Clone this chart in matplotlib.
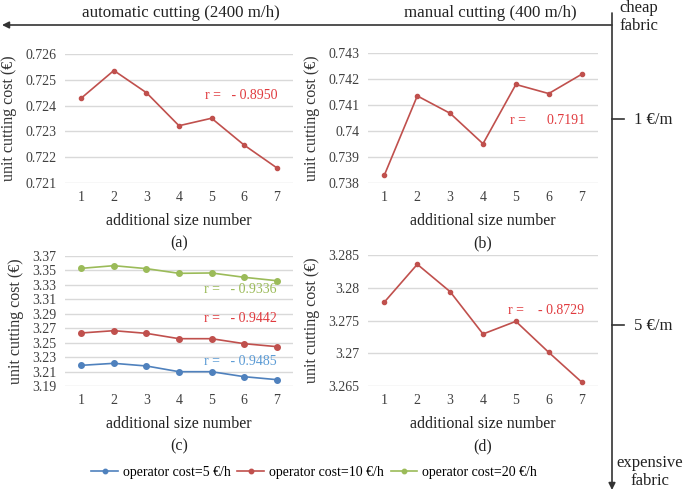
import matplotlib
matplotlib.use("Agg")
import matplotlib.pyplot as plt
import numpy as np

plt.rcParams['font.family'] = ['Liberation Serif', 'DejaVu Serif']

sizes = [1, 2, 3, 4, 5, 6, 7]

# (a) automatic cutting, cheap fabric
auto_cheap = [0.72429, 0.72536, 0.72450, 0.72322, 0.72351, 0.72247, 0.72159]
# (b) manual cutting, cheap fabric
manual_cheap = [0.73831, 0.74135, 0.74068, 0.73951, 0.74179, 0.74144, 0.74218]
# (c) automatic cutting, expensive fabric, three operator costs
auto_exp_5 = [3.2186, 3.2214, 3.2177, 3.2098, 3.2098, 3.2029, 3.1988]
auto_exp_10 = [3.2634, 3.2666, 3.2629, 3.2555, 3.2555, 3.2486, 3.2445]
auto_exp_20 = [3.3529, 3.3566, 3.3525, 3.3460, 3.3465, 3.3405, 3.3358]
# (d) manual cutting, expensive fabric
manual_exp = [3.27782, 3.28358, 3.2794, 3.27294, 3.27487, 3.27014, 3.26561]

r_a = "r =   - 0.8950"
r_b = "r =      0.7191"
r_c = ["r =   - 0.9485", "r =   - 0.9442", "r =   - 0.9336"]
r_d = "r =    - 0.8729"

legend_labels = ["operator cost=5 €/h", "operator cost=10 €/h", "operator cost=20 €/h"]

BLUE = "#4F81BD"
RED = "#C0504D"
GREEN = "#9BBB59"
RTXT = "#E03A3E"
BTXT = "#5B9BD5"

W, H = 685, 494
fig = plt.figure(figsize=(W / 100, H / 100), dpi=100)


def make_ax(x0, y0, x1, y1):
    return fig.add_axes([x0 / W, 1 - y1 / H, (x1 - x0) / W, (y1 - y0) / H])


def style(ax, ymin, ymax, step, fmt, letter):
    ax.set_xlim(0.5, 7.5)
    ticks = np.arange(ymin, ymax + step / 2, step)
    ax.set_ylim(ymin, ymax)
    ax.set_yticks(ticks)
    ax.set_yticklabels([fmt(t) for t in ticks])
    ax.set_xticks(sizes)
    for s in ax.spines.values():
        s.set_visible(False)
    ax.grid(axis='y', color='#D9D9D9', linewidth=1)
    ax.set_axisbelow(True)
    ax.tick_params(length=0, labelsize=10, colors='#404040', pad=6)
    ax.set_ylabel("unit cutting cost (€)", fontsize=11.5, color='#333333', labelpad=6)
    ax.set_xlabel("additional size number" + "\n(" + letter + ")", fontsize=11.5,
                  color='#222222', labelpad=6, linespacing=1.6)


def trim(v, n):
    s = f"{v:.{n}f}".rstrip('0').rstrip('.')
    return s


LW = 1.2
# (a)
ax_a = make_ax(65, 54, 293, 183)
ax_a.plot(sizes, auto_cheap, color=RED, lw=LW, marker='o', ms=3)
style(ax_a, 0.721, 0.726, 0.001, lambda t: f"{t:.3f}", "a")
ax_a.text(4.8, 0.7244, r_a, color=RTXT, fontsize=10, va='center')

# (b)
ax_b = make_ax(368, 53, 598, 183)
ax_b.plot(sizes, manual_cheap, color=RED, lw=LW, marker='o', ms=3)
style(ax_b, 0.738, 0.743, 0.001, lambda t: trim(t, 3), "b")
ax_b.text(4.82, 0.7404, r_b, color=RTXT, fontsize=10, va='center')

# (c)
ax_c = make_ax(65, 256, 293, 386)
l1, = ax_c.plot(sizes, auto_exp_5, color=BLUE, lw=LW, marker='o', ms=4)
l2, = ax_c.plot(sizes, auto_exp_10, color=RED, lw=LW, marker='o', ms=4)
l3, = ax_c.plot(sizes, auto_exp_20, color=GREEN, lw=LW, marker='o', ms=4)
style(ax_c, 3.19, 3.37, 0.02, lambda t: f"{t:.2f}", "c")
ax_c.text(4.77, 3.2236, r_c[0], color=BTXT, fontsize=10, va='center')
ax_c.text(4.77, 3.283, r_c[1], color=RTXT, fontsize=10, va='center')
ax_c.text(4.77, 3.323, r_c[2], color=GREEN, fontsize=10, va='center')

# (d)
ax_d = make_ax(368, 255, 598, 386)
ax_d.plot(sizes, manual_exp, color=RED, lw=LW, marker='o', ms=3)
style(ax_d, 3.265, 3.285, 0.005, lambda t: trim(t, 3), "d")
ax_d.text(4.76, 3.2765, r_d, color=RTXT, fontsize=10, va='center')

# legend
leg = fig.legend([l1, l2, l3], legend_labels, loc='center', bbox_to_anchor=(314 / W, 1 - 472 / H),
                 ncol=3, frameon=False, fontsize=10, handlelength=1.9, columnspacing=0.5,
                 handletextpad=0.35, markerscale=0.8)

# arrows and labels
def fx(x):
    return x / W


def fy(y):
    return 1 - y / H


fig.patches.append(matplotlib.patches.FancyArrowPatch(
    (fx(612), fy(25)), (fx(2), fy(25)), transform=fig.transFigure,
    arrowstyle='-|>,head_length=4,head_width=2', color='#333333', lw=1.2,
    shrinkA=0, shrinkB=0))
fig.patches.append(matplotlib.patches.FancyArrowPatch(
    (fx(612), fy(13)), (fx(612), fy(490)), transform=fig.transFigure,
    arrowstyle='-|>,head_length=4,head_width=2', color='#333333', lw=1.2,
    shrinkA=0, shrinkB=0))
for yy in (119, 325):
    fig.add_artist(matplotlib.lines.Line2D([fx(612), fx(624)], [fy(yy), fy(yy)],
                                           color='#333333', lw=1.2))

fig.text(fx(181), fy(13), "automatic cutting (2400 m/h)", fontsize=12.2,
         ha='center', va='center', color='#222222')
fig.text(fx(490), fy(13), "manual cutting (400 m/h)", fontsize=12.2,
         ha='center', va='center', color='#222222')
fig.text(fx(619), fy(17), "cheap\nfabric", fontsize=12, ha='left', va='center',
         color='#222222', linespacing=1.15)
fig.text(fx(650), fy(472), "expensive\nfabric", fontsize=12, ha='center', va='center',
         color='#222222', linespacing=1.15)
fig.text(fx(634), fy(120), "1 €/m", fontsize=12, ha='left', va='center', color='#222222')
fig.text(fx(634), fy(326), "5 €/m", fontsize=12, ha='left', va='center', color='#222222')

fig.savefig("out.png", dpi=100, facecolor='white')
